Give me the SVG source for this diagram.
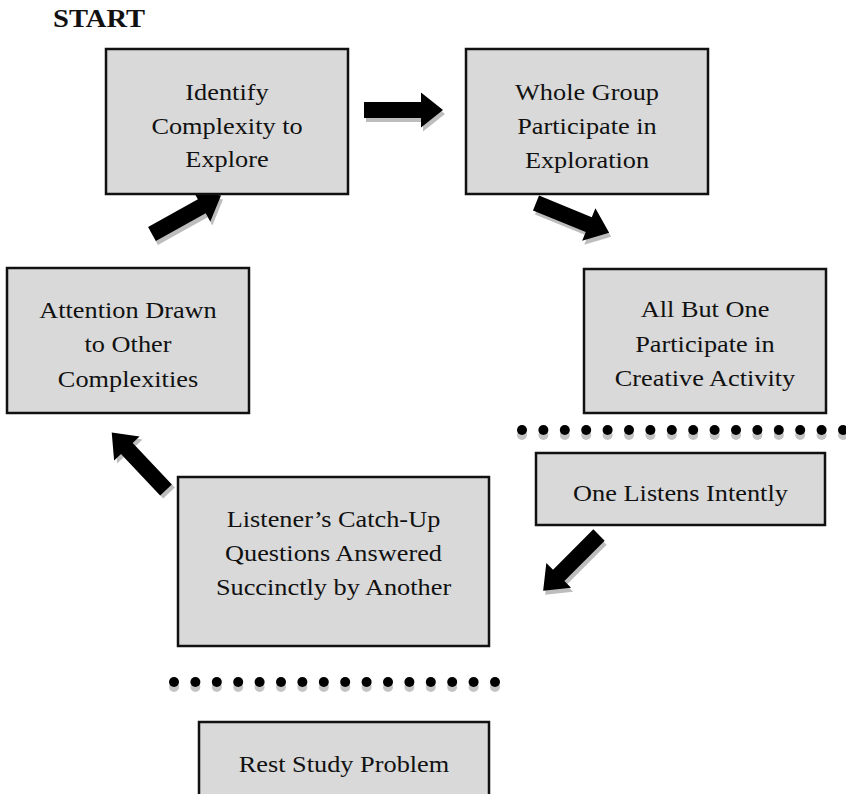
<svg xmlns="http://www.w3.org/2000/svg" xmlns:xlink="http://www.w3.org/1999/xlink" width="846" height="794" viewBox="0 0 846 794">
<style>
.box{fill:#d9d9d9;stroke:#111;stroke-width:2.5}
.t{font-family:"Liberation Serif","Times New Roman",serif;font-size:23.5px;fill:#111;text-anchor:middle}
.start{font-family:"Liberation Serif","Times New Roman",serif;font-size:25.5px;font-weight:bold;fill:#111}
.dot{fill:#000}
.dsh{fill:#c4c4c4}
.arr{fill:#000}
.ash{fill:#bdbdbd}
</style>
<defs>
<path id="arr" d="M0,-8 H57 V-17.5 L79,0 L57,17.5 V8 H0 Z"/>
<g id="dotrow">
<circle class="dsh" cx="0" cy="5" r="5"/><circle class="dot" cx="0" cy="0" r="5"/>
</g>
</defs>
<rect width="846" height="794" fill="#fff"/>
<g id="start-label" transform="translate(53,0) scale(1.12,1)"><text class="start" x="0" y="27">START</text></g>

<g id="connectors">
<use href="#arr" class="ash" transform="translate(366,114)"/>
<use href="#arr" class="arr" transform="translate(364,110)"/>
<use href="#arr" class="ash" transform="translate(538,207) rotate(22.2)"/>
<use href="#arr" class="arr" transform="translate(536,203) rotate(22.2)"/>
<use href="#arr" class="ash" transform="translate(601,539) rotate(135)"/>
<use href="#arr" class="arr" transform="translate(599,535) rotate(135)"/>
<use href="#arr" class="ash" transform="translate(169,493) rotate(-133.4)"/>
<use href="#arr" class="arr" transform="translate(166,490) rotate(-133.4)"/>
<use href="#arr" class="ash" transform="translate(154,238) rotate(-29.1)"/>
<use href="#arr" class="arr" transform="translate(152,234) rotate(-29.1)"/>
</g>

<g id="n-identify">
<rect class="box" x="106" y="49" width="242" height="145"/>
<g transform="translate(227,0) scale(1.12,1)">
<text class="t" x="0" y="100">Identify</text>
<text class="t" x="0" y="134">Complexity to</text>
<text class="t" x="0" y="167">Explore</text>
</g>
</g>

<g id="n-whole">
<rect class="box" x="466" y="49" width="242" height="145"/>
<g transform="translate(587,0) scale(1.12,1)">
<text class="t" x="0" y="100">Whole Group</text>
<text class="t" x="0" y="134">Participate in</text>
<text class="t" x="0" y="168">Exploration</text>
</g>
</g>

<g id="n-allbutone">
<rect class="box" x="584" y="269" width="242" height="144"/>
<g transform="translate(705,0) scale(1.12,1)">
<text class="t" x="0" y="317">All But One</text>
<text class="t" x="0" y="352">Participate in</text>
<text class="t" x="0" y="386">Creative Activity</text>
</g>
</g>

<g id="sep-1">
<use href="#dotrow" x="522" y="430"/><use href="#dotrow" x="543.4" y="430"/><use href="#dotrow" x="564.8" y="430"/><use href="#dotrow" x="586.2" y="430"/>
<use href="#dotrow" x="607.6" y="430"/><use href="#dotrow" x="629" y="430"/><use href="#dotrow" x="650.4" y="430"/><use href="#dotrow" x="671.8" y="430"/>
<use href="#dotrow" x="693.2" y="430"/><use href="#dotrow" x="714.6" y="430"/><use href="#dotrow" x="736" y="430"/><use href="#dotrow" x="757.4" y="430"/>
<use href="#dotrow" x="778.8" y="430"/><use href="#dotrow" x="800.2" y="430"/><use href="#dotrow" x="821.6" y="430"/><use href="#dotrow" x="843" y="430"/>
</g>

<g id="n-listens">
<rect class="box" x="536" y="453" width="289" height="72"/>
<g transform="translate(680.5,0) scale(1.12,1)">
<text class="t" x="0" y="501">One Listens Intently</text>
</g>
</g>

<g id="n-catchup">
<rect class="box" x="178" y="477" width="311" height="169"/>
<g transform="translate(333.5,0) scale(1.12,1)">
<text class="t" x="0" y="527">Listener’s Catch-Up</text>
<text class="t" x="0" y="561">Questions Answered</text>
<text class="t" x="0" y="595">Succinctly by Another</text>
</g>
</g>

<g id="n-attention">
<rect class="box" x="7" y="268" width="242" height="145"/>
<g transform="translate(128,0) scale(1.12,1)">
<text class="t" x="0" y="318">Attention Drawn</text>
<text class="t" x="0" y="352">to Other</text>
<text class="t" x="0" y="387">Complexities</text>
</g>
</g>

<g id="sep-2">
<use href="#dotrow" x="174" y="682"/><use href="#dotrow" x="195.4" y="682"/><use href="#dotrow" x="216.8" y="682"/><use href="#dotrow" x="238.2" y="682"/>
<use href="#dotrow" x="259.6" y="682"/><use href="#dotrow" x="281" y="682"/><use href="#dotrow" x="302.4" y="682"/><use href="#dotrow" x="323.8" y="682"/>
<use href="#dotrow" x="345.2" y="682"/><use href="#dotrow" x="366.6" y="682"/><use href="#dotrow" x="388" y="682"/><use href="#dotrow" x="409.4" y="682"/>
<use href="#dotrow" x="430.8" y="682"/><use href="#dotrow" x="452.2" y="682"/><use href="#dotrow" x="473.6" y="682"/><use href="#dotrow" x="495" y="682"/>
</g>

<g id="n-rest">
<rect class="box" x="199" y="722" width="290" height="90"/>
<g transform="translate(344,0) scale(1.12,1)">
<text class="t" x="0" y="772">Rest Study Problem</text>
</g>
</g>
</svg>
